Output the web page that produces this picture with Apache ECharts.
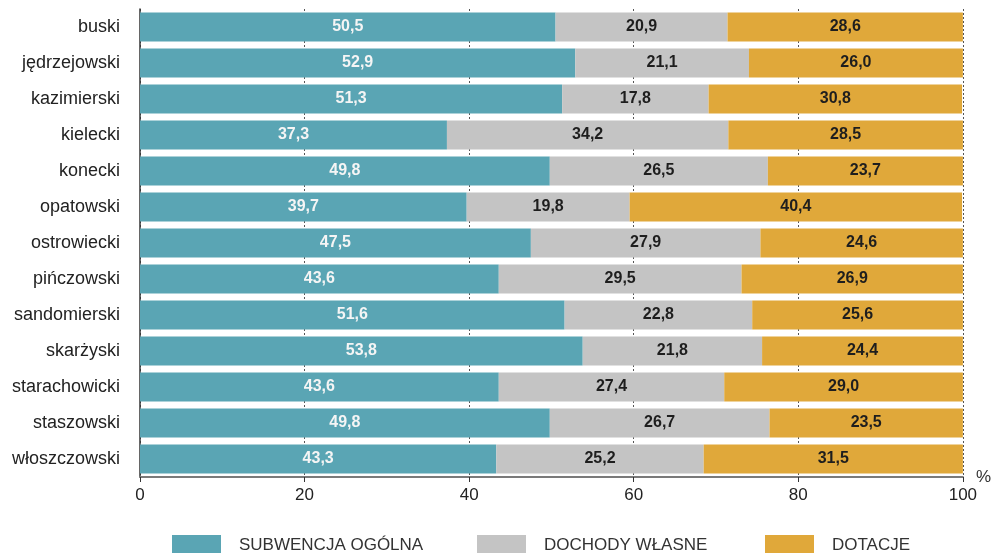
<!DOCTYPE html>
<html>
<head>
<meta charset="utf-8">
<script src="https://cdn.jsdelivr.net/npm/echarts@6/dist/echarts.min.js"></script>
<style>
html,body{margin:0;padding:0;background:#fff;}
#chart{width:994px;height:553px;}
</style>
</head>
<body>
<div id="chart"></div>
<script>
var categories = ['buski','jędrzejowski','kazimierski','kielecki','konecki','opatowski','ostrowiecki','pińczowski','sandomierski','skarżyski','starachowicki','staszowski','włoszczowski'];
var subwencja = [50.5,52.9,51.3,37.3,49.8,39.7,47.5,43.6,51.6,53.8,43.6,49.8,43.3];
var dochody = [20.9,21.1,17.8,34.2,26.5,19.8,27.9,29.5,22.8,21.8,27.4,26.7,25.2];
var dotacje = [28.6,26.0,30.8,28.5,23.7,40.4,24.6,26.9,25.6,24.4,29.0,23.5,31.5];
var seriesNames = ['SUBWENCJA OGÓLNA','DOCHODY WŁASNE','DOTACJE'];
var xTicks = [0,20,40,60,80,100];

var FONT = '"Liberation Sans", Arial, sans-serif';
function fmt(p){ return p.value.toFixed(1).replace('.', ','); }
function mkSeries(name, data, color, labelColor){
  return {
    name: name, type: 'bar', stack: 'total', data: data,
    barCategoryGap: '20%',
    itemStyle: {color: color},
    label: {show: true, position: 'inside', formatter: fmt,
      color: labelColor, fontSize: 16, fontWeight: 'bold', fontFamily: FONT},
    emphasis: {disabled: true}
  };
}
function mkLegend(name, left){
  return {
    data: [name], left: left, top: 535, padding: 0, itemWidth: 49, itemHeight: 21,
    icon: 'rect', selectedMode: false,
    textStyle: {fontSize: 17, color: '#333', fontFamily: FONT, padding: [0,0,0,13]}
  };
}
var chart = echarts.init(document.getElementById('chart'));
chart.setOption({
  animation: false,
  textStyle: {fontFamily: FONT},
  grid: {left: 140, right: 26, top: 9, bottom: 76, containLabel: false},
  legend: [mkLegend(seriesNames[0], 172), mkLegend(seriesNames[1], 477), mkLegend(seriesNames[2], 765)],
  xAxis: {
    type: 'value', min: xTicks[0], max: xTicks[xTicks.length-1], interval: 20,
    name: '%', nameLocation: 'end', nameGap: 13,
    nameTextStyle: {fontSize: 17, color: '#333', fontFamily: FONT, verticalAlign: 'middle', padding: [0,0,4,0]},
    axisLine: {show: true, lineStyle: {color: '#7a7a7a', width: 2}},
    axisTick: {show: true, length: 5, lineStyle: {color: '#333', width: 1}},
    axisLabel: {fontSize: 17, color: '#222', margin: 10, fontFamily: FONT},
    splitLine: {show: true, lineStyle: {color: '#555', width: 1, type: [2,2]}}
  },
  yAxis: {
    type: 'category', data: categories, inverse: true,
    axisLine: {show: true, lineStyle: {color: '#333', width: 1.5}},
    axisTick: {show: false},
    axisLabel: {fontSize: 18, color: '#222', margin: 20, fontFamily: FONT}
  },
  series: [
    mkSeries(seriesNames[0], subwencja, '#5aa5b4', '#f5f5f5'),
    mkSeries(seriesNames[1], dochody, '#c4c4c4', '#1e1e1e'),
    mkSeries(seriesNames[2], dotacje, '#e0a83a', '#1e1e1e')
  ]
});
</script>
</body>
</html>
